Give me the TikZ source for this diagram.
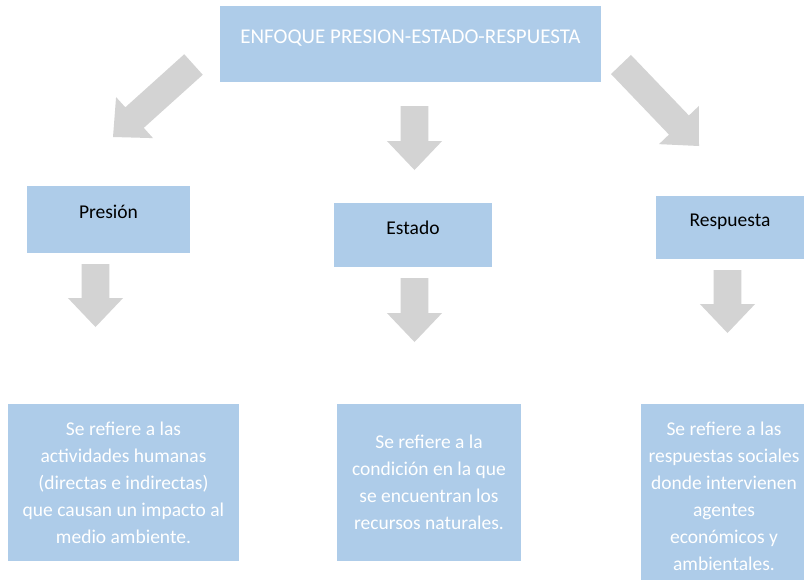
\documentclass[tikz,border=0pt]{standalone}
\usepackage{fontspec}
\setmainfont{Carlito}
\usetikzlibrary{calc}

\definecolor{boxblue}{RGB}{174,204,233}
\definecolor{arrowgray}{RGB}{211,211,211}

\newcommand{\bigarrow}[2]{%
  \coordinate (#1b) at ($(#2)!29pt!(#1)$);
  \fill[arrowgray] ($(#1)!13.8pt!90:(#2)$) -- ($(#1b)!13.8pt!90:(#2)$) -- ($(#1b)!27.6pt!90:(#2)$) -- (#2)
    -- ($(#1b)!27.6pt!-90:(#2)$) -- ($(#1b)!13.8pt!-90:(#2)$) -- ($(#1)!13.8pt!-90:(#2)$) -- cycle;}

\begin{document}
\begin{tikzpicture}[x=1pt, y=-1pt,
		box/.style={fill=boxblue, inner sep=0pt, align=center, font=\fontsize{19.5}{27}\selectfont},
		head/.style={box, anchor=north, text=black},
		note/.style={box, text=white}]
		\useasboundingbox[fill=white] (0,0) rectangle (804,579);
		\clip (0,0) rectangle (804,579);

		\node [box, anchor=north, text=white, font=\fontsize{21}{25}\selectfont, minimum width=381pt, text height=37pt, text depth=39pt] (enfoque) at (410.5,6) {ENFOQUE PRESION-ESTADO-RESPUESTA};

		\node [head, minimum width=163pt, text height=32.3pt, text depth=34.7pt] (presion) at (108.5,186) {Presión};
		\node [head, minimum width=158pt, text height=31.3pt, text depth=32.7pt] (estado) at (413,203) {Estado};
		\node [head, minimum width=148pt, text height=30.3pt, text depth=32.7pt] (respuesta) at (730,196) {Respuesta};

		\node [note, minimum width=231pt, minimum height=157pt] (npresion) at (123.5,482.5) {Se refiere a las\\actividades humanas\\(directas e indirectas)\\que causan un impacto al\\medio ambiente.};
		\node [note, minimum width=184pt, minimum height=157pt] (nestado) at (429,482.5) {Se refiere a la\\condición en la que\\se encuentran los\\recursos naturales.};
		\node [note, minimum width=166pt, minimum height=184pt] (nrespuesta) at (724,496) {Se refiere a las\\respuestas sociales\\donde intervienen\\agentes\\económicos y\\ambientales.};

		\coordinate (ep) at (193.5,64.5);  \coordinate (ept) at (113,137);
		\coordinate (ee) at (414.5,106);   \coordinate (eet) at (414.5,170);
		\coordinate (er) at (621,64.5);    \coordinate (ert) at (699,146);
		\coordinate (pn) at (95.5,264);    \coordinate (pnt) at (95.5,327);
		\coordinate (en) at (414.5,278);   \coordinate (ent) at (414.5,342);
		\coordinate (rn) at (727.5,270);   \coordinate (rnt) at (727.5,333);

		\bigarrow{ep}{ept}
		\bigarrow{ee}{eet}
		\bigarrow{er}{ert}
		\bigarrow{pn}{pnt}
		\bigarrow{en}{ent}
		\bigarrow{rn}{rnt}
	\end{tikzpicture}
\end{document}
